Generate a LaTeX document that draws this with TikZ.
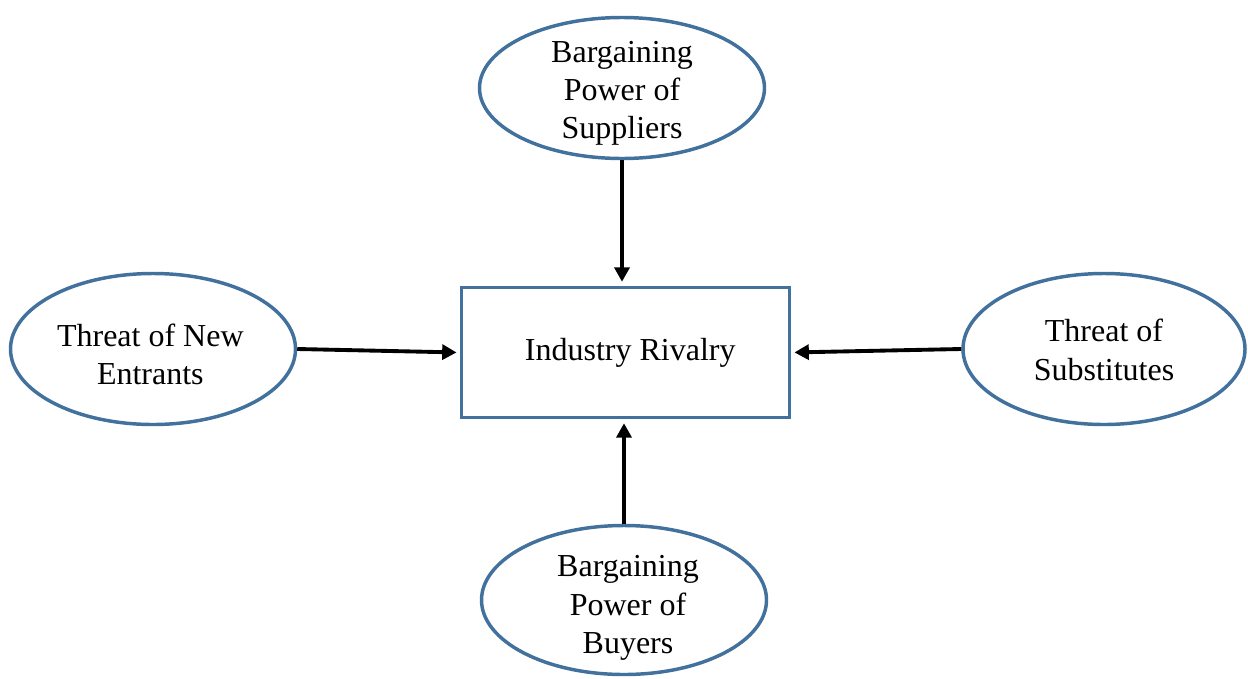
\documentclass[tikz,border=0pt]{standalone}
\usepackage{fontspec}
\setmainfont{Liberation Serif}
\usetikzlibrary{shapes.geometric,arrows.meta}
\definecolor{edgeblue}{HTML}{41719C}
\begin{document}
\begin{tikzpicture}[x=0.375pt,y=-0.375pt,
  force/.style={ellipse,draw=edgeblue,line width=1.3pt,inner sep=0pt},
  forcetext/.style={align=center,inner sep=0pt,font=\fontsize{12}{14.4}\selectfont},
  centerbox/.style={rectangle,draw=edgeblue,line width=1.3pt,inner sep=0pt},
  arr/.style={line width=1.45pt,-{Triangle[length=5.4pt,width=5.6pt]}}]
\useasboundingbox (0,0) rectangle (1248,678);
\node[centerbox,minimum width=328*0.375pt,minimum height=130*0.375pt] (rect) at (625.5,352.5) {};
\node[force,minimum width=285*0.375pt,minimum height=141*0.375pt] (top) at (622,88) {};
\node[force,minimum width=285*0.375pt,minimum height=151*0.375pt] (left) at (153,349) {};
\node[force,minimum width=282*0.375pt,minimum height=151*0.375pt] (right) at (1104,349) {};
\node[force,minimum width=285*0.375pt,minimum height=149*0.375pt] (bottom) at (624,600) {};
\node[forcetext] (recttext) at ([xshift=1.8pt]rect.center) {Industry Rivalry};
\node[forcetext] (toptext) at ([yshift=-2pt]top.center) {Bargaining\\Power of\\Suppliers};
\node[forcetext] (lefttext) at ([xshift=-1pt,yshift=-2pt]left.center) {Threat of New\\Entrants};
\node[forcetext] (righttext) at ([yshift=-0.4pt]right.center) {Threat of\\Substitutes};
\node[forcetext] (bottomtext) at ([xshift=1.5pt,yshift=-3pt]bottom.center) {Bargaining\\Power of\\Buyers};
\draw[arr,shorten >=1.5pt] (top.south) -- (top.south |- rect.north);
\draw[arr,shorten >=1.5pt] (bottom.north) -- (bottom.north |- rect.south);
\draw[arr,shorten >=1.2pt] (left.east) -- (rect.west);
\draw[arr,shorten >=1.2pt] (right.west) -- (rect.east);
\end{tikzpicture}
\end{document}
